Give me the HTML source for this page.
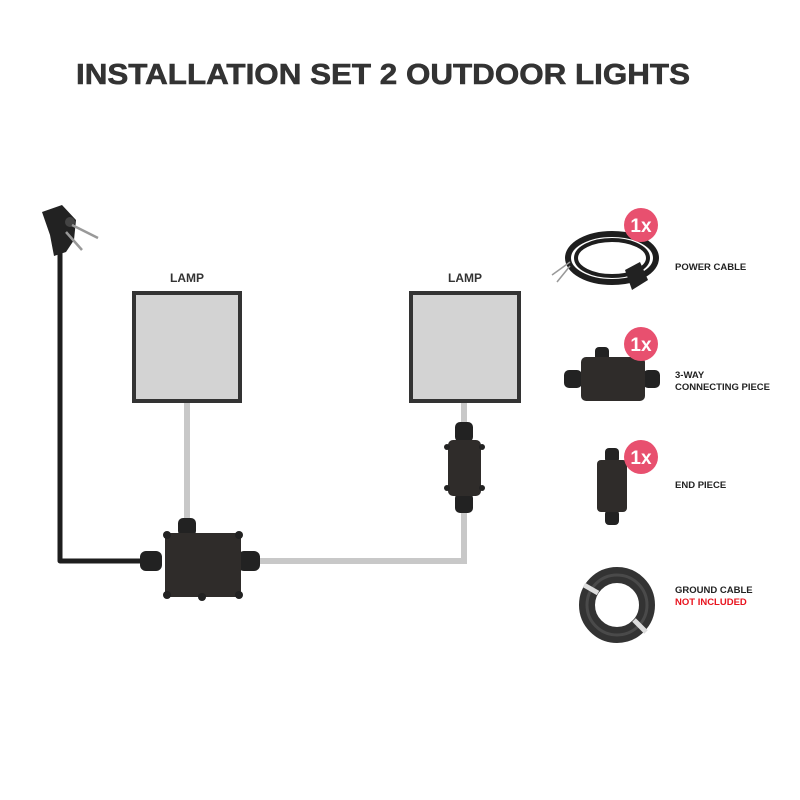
<!DOCTYPE html>
<html><head><meta charset="utf-8"><style>
body{margin:0;background:#fff}
svg{display:block}
text{font-family:"Liberation Sans",sans-serif;font-weight:bold}
</style></head><body>
<svg width="800" height="800" viewBox="0 0 800 800" xmlns="http://www.w3.org/2000/svg">
<rect width="800" height="800" fill="#fff"/>
<text x="383" y="84" font-size="29" fill="#333" text-anchor="middle" textLength="614" lengthAdjust="spacingAndGlyphs" stroke="#333" stroke-width="0.6">INSTALLATION SET 2 OUTDOOR LIGHTS</text>

<g stroke="#c8c8c8" stroke-width="6" fill="none">
<line x1="187" y1="403" x2="187" y2="525"/>
<polyline points="255,561 464,561 464,505"/>
<line x1="464" y1="403" x2="464" y2="425"/>
</g>
<polyline points="60,250 60,561 148,561" stroke="#1e1e1e" stroke-width="5" fill="none" stroke-linejoin="round"/>

<g>
<path d="M42,212 L62,205 L76,220 L74,240 L66,252 L54,256 L50,235 Z" fill="#222"/>
<circle cx="70" cy="222" r="5" fill="#444"/>
<line x1="72" y1="225" x2="98" y2="238" stroke="#999" stroke-width="2.5"/>
<line x1="66" y1="232" x2="82" y2="250" stroke="#999" stroke-width="2.5"/>
</g>

<text x="187" y="282" font-size="12" fill="#333" text-anchor="middle">LAMP</text>
<rect x="134" y="293" width="106" height="108" fill="#d3d3d3" stroke="#333" stroke-width="4"/>
<text x="465" y="282" font-size="12" fill="#333" text-anchor="middle">LAMP</text>
<rect x="411" y="293" width="108" height="108" fill="#d3d3d3" stroke="#333" stroke-width="4"/>

<g>
<rect x="140" y="551" width="22" height="20" rx="6" fill="#222"/>
<rect x="238" y="551" width="22" height="20" rx="6" fill="#222"/>
<rect x="178" y="518" width="18" height="18" rx="5" fill="#222"/>
<rect x="165" y="533" width="76" height="64" rx="6" fill="#2f2c2a"/>
<circle cx="167" cy="535" r="4" fill="#222"/><circle cx="239" cy="535" r="4" fill="#222"/>
<circle cx="167" cy="595" r="4" fill="#222"/><circle cx="239" cy="595" r="4" fill="#222"/>
<circle cx="202" cy="597" r="4" fill="#222"/>
</g>

<g>
<rect x="455" y="422" width="18" height="20" rx="5" fill="#222"/>
<rect x="455" y="493" width="18" height="20" rx="5" fill="#222"/>
<rect x="448" y="440" width="33" height="56" rx="5" fill="#2f2c2a"/>
<circle cx="447" cy="447" r="3" fill="#222"/><circle cx="482" cy="447" r="3" fill="#222"/>
<circle cx="447" cy="488" r="3" fill="#222"/><circle cx="482" cy="488" r="3" fill="#222"/>
</g>

<g fill="none" stroke="#1e1e1e">
<ellipse cx="612" cy="258" rx="44" ry="24" stroke-width="6"/>
<ellipse cx="612" cy="258" rx="36" ry="18" stroke-width="4"/>
</g>
<line x1="570" y1="262" x2="552" y2="275" stroke="#999" stroke-width="1.5"/>
<line x1="570" y1="266" x2="557" y2="282" stroke="#999" stroke-width="1.5"/>
<path d="M625,270 L640,262 L648,280 L632,290 Z" fill="#222"/>
<circle cx="641" cy="225" r="17" fill="#e8506f"/>
<text x="641" y="232" font-size="19" fill="#fff" text-anchor="middle">1x</text>
<text x="675" y="270" font-size="9.5" fill="#222">POWER CABLE</text>

<g>
<rect x="564" y="370" width="18" height="18" rx="5" fill="#222"/>
<rect x="643" y="370" width="17" height="18" rx="5" fill="#222"/>
<rect x="595" y="347" width="14" height="14" rx="4" fill="#222"/>
<rect x="581" y="357" width="64" height="44" rx="5" fill="#2f2c2a"/>
</g>
<circle cx="641" cy="344" r="17" fill="#e8506f"/>
<text x="641" y="351" font-size="19" fill="#fff" text-anchor="middle">1x</text>
<text x="675" y="378" font-size="9.5" fill="#222">3-WAY</text>
<text x="675" y="390" font-size="9.5" fill="#222">CONNECTING PIECE</text>

<g>
<rect x="605" y="448" width="14" height="15" rx="4" fill="#222"/>
<rect x="605" y="510" width="14" height="15" rx="4" fill="#222"/>
<rect x="597" y="460" width="30" height="52" rx="4" fill="#2f2c2a"/>
</g>
<circle cx="641" cy="457" r="17" fill="#e8506f"/>
<text x="641" y="464" font-size="19" fill="#fff" text-anchor="middle">1x</text>
<text x="675" y="488" font-size="9.5" fill="#222">END PIECE</text>

<circle cx="617" cy="605" r="30" fill="none" stroke="#333" stroke-width="16"/>
<circle cx="617" cy="605" r="30" fill="none" stroke="#4a4a4a" stroke-width="3"/>
<line x1="584" y1="585" x2="598" y2="593" stroke="#ddd" stroke-width="5"/>
<line x1="634" y1="620" x2="646" y2="632" stroke="#ddd" stroke-width="5"/>
<text x="675" y="593" font-size="9.5" fill="#222">GROUND CABLE</text>
<text x="675" y="605" font-size="9.5" fill="#e8141e">NOT INCLUDED</text>
</svg>
</body></html>
